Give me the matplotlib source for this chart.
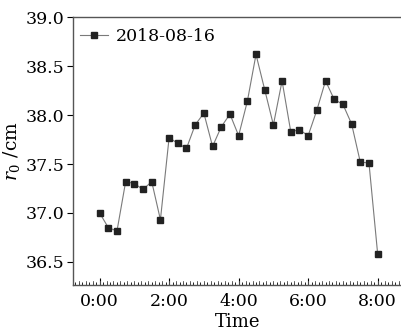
import numpy as np
import matplotlib
matplotlib.use("Agg")
import matplotlib.pyplot as plt
from matplotlib.ticker import MultipleLocator

plt.rcParams['font.family'] = ['DejaVu Serif']
plt.rcParams['mathtext.fontset'] = 'dejavuserif'

# Sampling every 15 minutes from 0:00 to 8:00 (hours)
hours = [i * 0.25 for i in range(33)]
r0_cm = [37.00, 36.85, 36.815, 37.32, 37.30, 37.24, 37.32, 36.93,
         37.77, 37.71, 37.66, 37.90, 38.02, 37.68, 37.88, 38.01,
         37.79, 38.14, 38.62, 38.26, 37.90, 38.35, 37.83, 37.85,
         37.79, 38.05, 38.35, 38.16, 38.11, 37.91, 37.52, 37.51, 36.58]
series_label = "2018-08-16"
x_ticks = [0, 2, 4, 6, 8]
x_tick_labels = ["0:00", "2:00", "4:00", "6:00", "8:00"]
y_ticks = [36.5, 37.0, 37.5, 38.0, 38.5, 39.0]

fig = plt.figure(figsize=(4.02, 3.35), dpi=100)
ax = fig.add_axes([73 / 402, 50 / 335, 329 / 402, 267.7 / 335])

ax.plot(hours, r0_cm, color='#7a7a7a', lw=0.8, marker='s', ms=4.6,
        mfc='#222222', mec='#222222', label=series_label)

ax.set_xlim(-0.765, 8.70)
ax.set_ylim(36.263, 39.0)

ax.set_xticks(x_ticks)
ax.set_xticklabels(x_tick_labels)
ax.set_yticks(y_ticks)
ax.set_yticklabels([f"{v:.1f}" for v in y_ticks])

# short minor ticks every 0.1 h, slightly longer ones every 0.2 h
ax.xaxis.set_minor_locator(MultipleLocator(0.1))
ax.tick_params(axis='x', which='major', direction='in', length=5, width=0.8,
               labelsize=12.5, pad=6)
ax.tick_params(axis='x', which='minor', direction='in', length=2.2, width=0.6)
minor_pos = np.arange(-0.7, 8.7, 0.1)
long_minor = [p for p in minor_pos if round(p * 10) % 2 == 0]
for p in long_minor:
    ax.plot([p, p], [0, 0.014], transform=ax.get_xaxis_transform(),
            color='#555555', lw=0.6, clip_on=False)

ax.tick_params(axis='y', which='major', direction='out', length=4, width=0.8,
               labelsize=12.5, pad=2)
ax.tick_params(top=False, right=False)

for side in ['left', 'bottom', 'top']:
    ax.spines[side].set_color('#555555')
    ax.spines[side].set_linewidth(1.0)
ax.spines['right'].set_visible(False)

ax.set_xlabel("Time", fontsize=13, labelpad=2)
ax.set_ylabel(r"$r_0$ /cm", fontsize=13.5, labelpad=3)

ax.legend(loc='upper left', frameon=False, fontsize=12.5,
          handlelength=1.6, handletextpad=0.45,
          borderaxespad=0.0, bbox_to_anchor=(0.0, 0.985))

fig.savefig("out.png", dpi=100)
